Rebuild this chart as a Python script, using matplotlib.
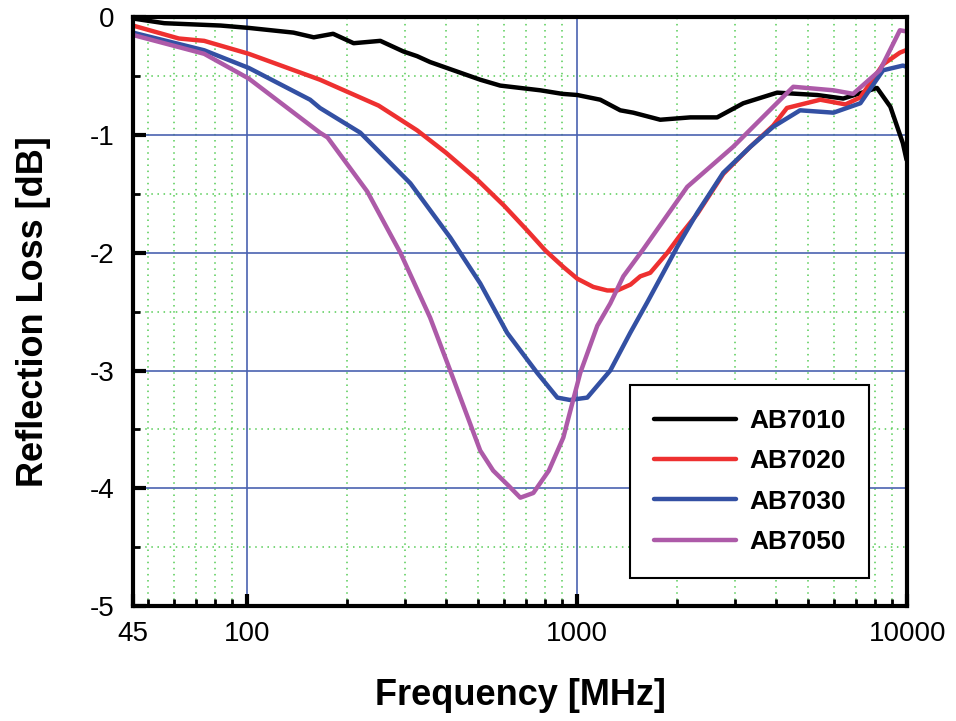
import matplotlib.pyplot as plt
from matplotlib.ticker import FixedLocator, NullFormatter

plt.rcParams['font.family'] = ['Liberation Sans', 'DejaVu Sans']

# AB7010
f_7010 = [45, 56, 83, 101, 138, 159, 182, 210, 253, 297, 327, 358, 508, 584, 773, 900,
          1000, 1174, 1350, 1478, 1784, 2200, 2654, 3185, 4033, 5335, 6397, 8100, 8890,
          9700, 9950]
rl_7010 = [-0.01, -0.05, -0.07, -0.09, -0.13, -0.17, -0.14, -0.22, -0.20, -0.29, -0.33,
           -0.38, -0.53, -0.58, -0.62, -0.65, -0.66, -0.70, -0.79, -0.81, -0.87, -0.85,
           -0.85, -0.73, -0.64, -0.66, -0.69, -0.60, -0.76, -1.07, -1.21]

# AB7020
f_7020 = [45, 62, 74, 101, 166, 250, 327, 400, 498, 600, 705, 800, 907, 1000, 1118, 1233,
          1322, 1450, 1552, 1664, 1874, 2052, 2310, 2770, 3345, 3924, 4320, 5450, 6500,
          7209, 8447, 9500, 9900]
rl_7020 = [-0.07, -0.18, -0.20, -0.31, -0.53, -0.75, -0.96, -1.15, -1.38, -1.60, -1.81,
           -1.98, -2.12, -2.22, -2.29, -2.32, -2.32, -2.27, -2.20, -2.17, -2.00, -1.85,
           -1.67, -1.33, -1.10, -0.92, -0.77, -0.70, -0.74, -0.68, -0.40, -0.30, -0.28]

# AB7030
f_7030 = [45, 74, 101, 155, 166, 220, 312, 412, 508, 613, 756, 870, 950, 1072, 1259,
          1447, 1630, 2009, 2310, 2770, 3345, 3924, 4734, 5975, 7209, 8447, 9700, 9950]
rl_7030 = [-0.13, -0.28, -0.43, -0.70, -0.77, -0.98, -1.41, -1.87, -2.26, -2.68, -3.02,
           -3.23, -3.25, -3.23, -3.00, -2.68, -2.42, -1.95, -1.66, -1.32, -1.10,
           -0.93, -0.79, -0.81, -0.73, -0.45, -0.41, -0.42]

# AB7050
f_7050 = [45, 74, 101, 166, 175, 231, 291, 358, 412, 508, 556, 620, 672, 736, 820, 907,
          1021, 1150, 1259, 1379, 1585, 2154, 2967, 3766, 4515, 5975, 6855, 8264,
          9500, 9950]
rl_7050 = [-0.15, -0.31, -0.52, -0.98, -1.02, -1.48, -2.00, -2.55, -3.00, -3.68, -3.85,
           -3.98, -4.08, -4.04, -3.85, -3.57, -3.02, -2.62, -2.43, -2.20, -1.97,
           -1.44, -1.10, -0.81, -0.59, -0.62, -0.65, -0.45, -0.11, -0.12]

series = [("AB7010", f_7010, rl_7010, "#000000"),
          ("AB7020", f_7020, rl_7020, "#ee3030"),
          ("AB7030", f_7030, rl_7030, "#3350a3"),
          ("AB7050", f_7050, rl_7050, "#ad5aa8")]

fig = plt.figure(figsize=(9.56, 7.21), dpi=100)
ax = fig.add_axes([0.139, 0.1595, 0.810, 0.8165])

for name, f, rl, col in series:
    ax.plot(f, rl, color=col, lw=3.2, label=name, solid_capstyle='round')

ax.set_xscale('log')
ax.set_xlim(45, 10000)
ax.set_ylim(-5, 0)

ax.xaxis.set_major_locator(FixedLocator([45, 100, 1000, 10000]))
ax.set_xticklabels(['45', '100', '1000', '10000'])
minor_x = [50, 60, 70, 80, 90] + [k * 100 for k in range(2, 10)] + [k * 1000 for k in range(2, 10)]
ax.xaxis.set_minor_locator(FixedLocator(minor_x))
ax.xaxis.set_minor_formatter(NullFormatter())

ax.set_yticks([0, -1, -2, -3, -4, -5])
ax.set_yticklabels(['0', '-1', '-2', '-3', '-4', '-5'])
ax.yaxis.set_minor_locator(FixedLocator([-0.5, -1.5, -2.5, -3.5, -4.5]))

ax.tick_params(which='major', direction='in', length=9, width=3, labelsize=20)
ax.tick_params(axis='x', which='major', pad=11)
ax.tick_params(axis='y', which='major', pad=13)
ax.tick_params(which='minor', direction='in', length=5, width=2)

ax.grid(which='major', color='#4a62b0', lw=1.2)
ax.grid(which='minor', color='#55cc55', lw=1.1, linestyle=(0, (1, 3)))
ax.set_axisbelow(True)

for s in ax.spines.values():
    s.set_linewidth(3)

ax.set_xlabel('Frequency [MHz]', fontsize=26, fontweight='bold', labelpad=22)
ax.set_ylabel('Reflection Loss [dB]', fontsize=26, fontweight='bold', labelpad=28)

leg = ax.legend(loc='lower right', bbox_to_anchor=(0.951, 0.048),
                prop={'weight': 'bold', 'size': 19}, fancybox=False, framealpha=1,
                edgecolor='black', handlelength=3.1, borderpad=0.9, labelspacing=0.62,
                handletextpad=0.5, borderaxespad=0)
leg.get_frame().set_linewidth(1.5)
for line in leg.get_lines():
    line.set_linewidth(3.2)

fig.savefig('out.png', dpi=100)
